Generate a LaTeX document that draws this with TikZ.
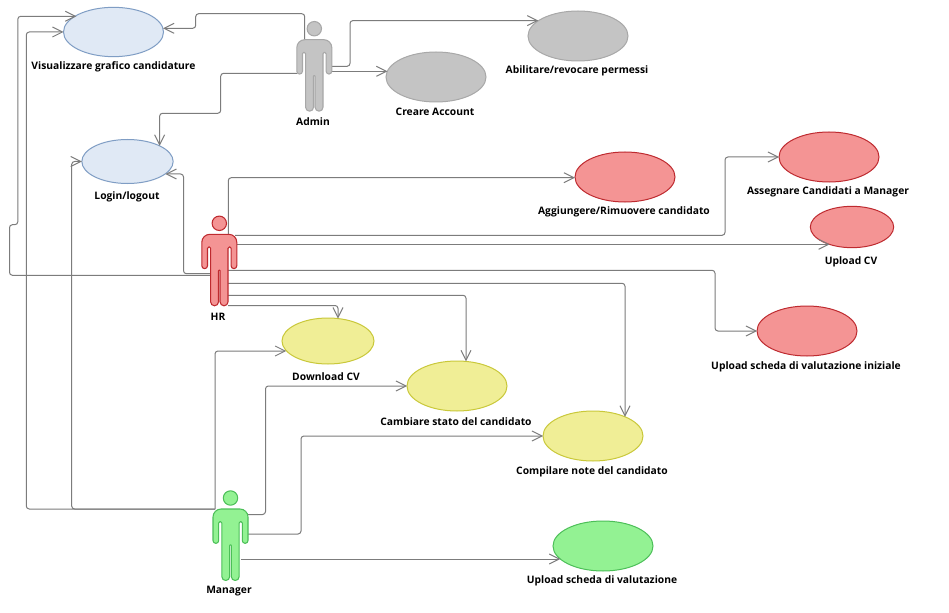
\documentclass[tikz,border=0pt]{standalone}
\usepackage{fontspec}
\setmainfont{Open Sans}
\usetikzlibrary{arrows.meta,shapes.geometric}
\definecolor{bluef}{HTML}{E0E9F5}\definecolor{blued}{HTML}{7F9DC4}
\definecolor{grayf}{HTML}{C4C4C4}\definecolor{grayd}{HTML}{A8A8A8}
\definecolor{redf}{HTML}{F49494}\definecolor{redd}{HTML}{BE2A2F}
\definecolor{yelf}{HTML}{F0EE96}\definecolor{yeld}{HTML}{C9C83A}
\definecolor{grnf}{HTML}{93F293}\definecolor{grnd}{HTML}{4CBF58}
\definecolor{linec}{HTML}{7C7C7C}
\tikzset{
 uc/.style={ellipse,draw,line width=0.75pt,inner sep=0pt,outer sep=0pt},
 lab/.style={font=\fontsize{7.72}{10}\selectfont\bfseries,text=black,inner sep=0pt,anchor=center},
 link/.style={draw=linec,line width=0.75pt,rounded corners=2.2pt,-{Straight Barb[length=7.5pt,width=7.5pt,line width=0.75pt]}},
 pics/actor/.style n args={2}{code={
  \path[fill=#1,draw=#2,line width=0.8pt] (0,0) circle[radius=7.2];
  \path[fill=#1,draw=#2,line width=0.8pt,line join=round]
   (-17.5,19) arc[start angle=180,end angle=270,radius=8] -- (9.5,11) arc[start angle=-90,end angle=0,radius=8]
   -- (17.5,42.5) arc[start angle=0,end angle=180,radius=2.85]
   -- (11.8,25) arc[start angle=0,end angle=-180,radius=1.55]
   -- (8.7,78.55) arc[start angle=0,end angle=180,radius=3.95]
   -- (0.8,47.5) arc[start angle=0,end angle=-180,radius=0.8]
   -- (-0.8,78.55) arc[start angle=0,end angle=180,radius=3.95]
   -- (-8.7,25) arc[start angle=0,end angle=-180,radius=1.55]
   -- (-11.8,42.5) arc[start angle=0,end angle=180,radius=2.85]
   -- cycle;
 }}
}
\begin{document}
\begin{tikzpicture}[x=0.75pt,y=-0.75pt]
\useasboundingbox (0,0) rectangle (949,613);
\fill[white] (0,0) rectangle (949,613);
% use cases
\node[uc,fill=bluef,draw=blued,minimum width=75pt,minimum height=37pt] (vis) at (113.5,32) {};
\node[uc,fill=bluef,draw=blued,minimum width=68.5pt,minimum height=33pt] (login) at (127.5,161.5) {};
\node[uc,fill=grayf,draw=grayd,minimum width=75pt,minimum height=37.5pt] (creare) at (436,77) {};
\node[uc,fill=grayf,draw=grayd,minimum width=75pt,minimum height=37.5pt] (abil) at (578,36) {};
\node[uc,fill=redf,draw=redd,minimum width=75pt,minimum height=37.5pt] (agg) at (625,177) {};
\node[uc,fill=redf,draw=redd,minimum width=75pt,minimum height=37.5pt] (ass) at (829,157) {};
\node[uc,fill=redf,draw=redd,minimum width=62.5pt,minimum height=31pt] (ucv) at (852,227) {};
\node[uc,fill=redf,draw=redd,minimum width=75pt,minimum height=37.5pt] (sch) at (807,331) {};
\node[uc,fill=yelf,draw=yeld,minimum width=69pt,minimum height=34.5pt] (dcv) at (328,341) {};
\node[uc,fill=yelf,draw=yeld,minimum width=75pt,minimum height=37.5pt] (cam) at (457,386) {};
\node[uc,fill=yelf,draw=yeld,minimum width=75pt,minimum height=37.5pt] (com) at (593,436) {};
\node[uc,fill=grnf,draw=grnd,minimum width=75pt,minimum height=37.5pt] (ups) at (603,546) {};
% labels
\node[lab] (visl) at (113.5,67) {Visualizzare grafico candidature};
\node[lab] (logl) at (127,197) {Login/logout};
\node[lab] (crel) at (435,112) {Creare Account};
\node[lab] (abll) at (577,71) {Abilitare/revocare permessi};
\node[lab] (aggl) at (624,212) {Aggiungere/Rimuovere candidato};
\node[lab] (assl) at (828,192) {Assegnare Candidati a Manager};
\node[lab] (ucvl) at (851,262) {Upload CV};
\node[lab] (schl) at (806,367) {Upload scheda di valutazione iniziale};
\node[lab] (dcvl) at (326,377) {Download CV};
\node[lab] (caml) at (456,422) {Cambiare stato del candidato};
\node[lab] (coml) at (592,472) {Compilare note del candidato};
\node[lab] (upsl) at (602,581) {Upload scheda di valutazione};
\node[lab] (adml) at (313,122) {Admin};
\node[lab] (hrl) at (218,317) {HR};
\node[lab] (manl) at (229,591) {Manager};
% connector start points on the actors
\coordinate (a1) at (304.7,40); \coordinate (a2) at (331,66.3); \coordinate (a3) at (331,71.3); \coordinate (a4) at (297,73.3);
\coordinate (h1) at (210,275.3); \coordinate (h2) at (210,273.7); \coordinate (h3) at (228.3,234); \coordinate (h4) at (235,235.3);
\coordinate (h5) at (236,244.3); \coordinate (h6) at (228,270.3); \coordinate (h7) at (228,283.3); \coordinate (h8) at (228,295.3); \coordinate (h9) at (228,305.5);
\coordinate (m1) at (215,509); \coordinate (m4) at (248,514.5); \coordinate (m5) at (248,534); \coordinate (m6) at (241,559);
% last bends
\coordinate (b1) at (195.7,28.3); \coordinate (b2) at (350,20.6); \coordinate (b4) at (159.6,113.3);
\coordinate (b5) at (17.8,16.3); \coordinate (b6) at (26.3,32); \coordinate (b7) at (71.7,161.5);
\coordinate (b8) at (183.5,174); \coordinate (b9) at (228.3,177.7); \coordinate (b10) at (725,157);
\coordinate (b11) at (715,331); \coordinate (b12) at (625,283.3); \coordinate (b13) at (466,295.3);
\coordinate (b14) at (338,305.5); \coordinate (b15) at (215,351); \coordinate (b16) at (265.5,386); \coordinate (b17) at (301,436);
% connectors
\draw[link] (a1) -- (304.7,13.7) -- (195.7,13.7) -- (b1) -- (vis.4.6 |- b1);
\draw[link] (a2) -- (350,66.3) -- (b2) -- (abil.159.1 |- b2);
\draw[link] (a3) -- (creare.173.6 |- a3);
\draw[link] (a4) -- (220.7,73.3) -- (220.7,113.3) -- (b4) -- (b4 |- login.26.6);
\draw[link] (h1) -- (9.5,275.3) -- (9.5,224.7) -- (17.8,224.7) -- (b5) -- (vis.156.9 |- b5);
\draw[link] (m1) -- (26.3,509) -- (b6) -- (vis.west |- b6);
\draw[link] (m1) -- (71.7,509) -- (b7) -- (login.west |- b7);
\draw[link] (h2) -- (183.5,273.7) -- (b8) -- (login.-18.4 |- b8);
\draw[link] (h3) -- (b9) -- (agg.181 |- b9);
\draw[link] (h4) -- (725,235.3) -- (b10) -- (ass.west |- b10);
\draw[link] (h5) -- (ucv.218.8 |- h5);
\draw[link] (h6) -- (715,270.3) -- (b11) -- (sch.west |- b11);
\draw[link] (h7) -- (b12) -- (b12 |- com.31);
\draw[link] (h8) -- (b13) -- (b13 |- cam.70);
\draw[link] (h9) -- (b14) -- (b14 |- dcv.66);
\draw[link] (m1) -- (b15) -- (dcv.193.6 |- b15);
\draw[link] (m4) -- (265.5,514.5) -- (b16) -- (cam.west |- b16);
\draw[link] (m5) -- (301,534) -- (b17) -- (com.west |- b17);
\draw[link] (m6) -- (ups.197.2 |- m6);
% actors
\pic (adm) at (314.3,28.7) {actor={grayf}{grayd}};
\pic (hr) at (219.3,223.3) {actor={redf}{redd}};
\pic (man) at (230.5,498) {actor={grnf}{grnd}};
\end{tikzpicture}
\end{document}
